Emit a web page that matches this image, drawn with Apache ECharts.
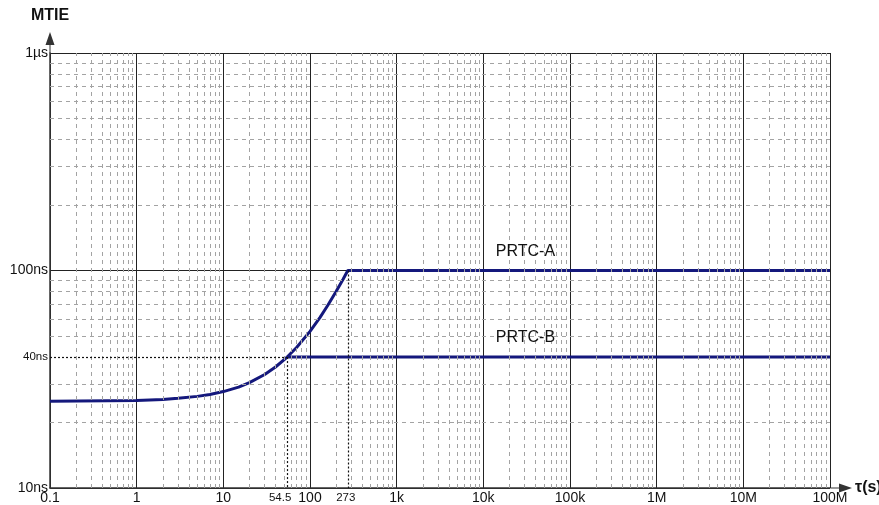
<!DOCTYPE html>
<html>
<head>
<meta charset="utf-8">
<script src="https://cdn.jsdelivr.net/npm/echarts@6/dist/echarts.min.js"></script>
<style>html,body{margin:0;padding:0;background:#fff}#c{width:879px;height:505px}</style>
</head>
<body>
<div id="c"></div>
<script>
// ---- data ----
const tauA  = [0.1, 1, 2, 3, 5, 7, 10, 15, 20, 30, 40, 54.5, 70, 100, 130, 160, 200, 240, 273, 1e8];
const mtieA = [25.03, 25.28, 25.55, 25.83, 26.38, 26.93, 27.75, 29.1, 30.5, 33.25, 36, 40, 44.25, 52.5, 60.75, 69, 80, 91, 100, 100];
const tauB  = [54.5, 1e8];
const mtieB = [40, 40];
const xTickLabels = ['0.1', '1', '10', '100', '1k', '10k', '100k', '1M', '10M', '100M'];
const yTickLabels = ['10ns', '100ns', '1µs'];
const xDecades = [0.1, 1, 10, 100, 1e3, 1e4, 1e5, 1e6, 1e7];
const yDecades = [10, 100];
const minorMult = [2, 3, 4, 5, 6, 7, 8, 9];
const refTauB = 54.5, refTauA = 273, refB = 40, refA = 100;
const labelA = {tau: 3.06e4, mtie: 100, text: 'PRTC-A'};
const labelB = {tau: 3.06e4, mtie: 40, text: 'PRTC-B'};

const FONT = '"Liberation Sans", Arial, sans-serif';
const lineColor = '#14187c';

const minorLines = [];
xDecades.forEach(d => minorMult.forEach(m => minorLines.push({xAxis: d * m})));
yDecades.forEach(d => minorMult.forEach(m => { if (d * m !== refB) minorLines.push({yAxis: d * m}); }));

const arrowPath = 'path://M4.5 0 L9 13 L5 13 L5 21 L4 21 L4 13 L0 13 Z';

const chart = echarts.init(document.getElementById('c'), null, {renderer: 'canvas'});
chart.setOption({
  animation: false,
  backgroundColor: '#fff',
  textStyle: {fontFamily: FONT},
  grid: {left: 50, right: 49, top: 53, bottom: 17, containLabel: false, outerBoundsMode: 'none'},
  xAxis: {
    type: 'log', logBase: 10, min: 0.1, max: 1e8, splitNumber: 10,
    name: 'τ(s)', nameLocation: 'end', nameGap: 25,
    nameTextStyle: {fontFamily: FONT, fontWeight: 'bold', fontSize: 16, color: '#111', verticalAlign: 'middle'},
    axisLine: {show: true, symbol: ['none', arrowPath], symbolSize: [9, 23], symbolOffset: [0, 11.5],
               lineStyle: {color: '#333', width: 1.5}},
    axisTick: {show: false},
    axisLabel: {show: true, margin: 3, fontSize: 14, color: '#111', fontFamily: FONT,
                showMinLabel: true, showMaxLabel: true,
                formatter: v => xTickLabels[Math.round(Math.log10(v)) + 1]},
    splitLine: {show: true, lineStyle: {color: '#222', width: 1}}
  },
  yAxis: {
    type: 'log', logBase: 10, min: 10, max: 1000, splitNumber: 5,
    name: 'MTIE', nameLocation: 'end', nameGap: 29,
    nameTextStyle: {fontFamily: FONT, fontWeight: 'bold', fontSize: 16, color: '#111'},
    axisLine: {show: true, symbol: ['none', arrowPath], symbolSize: [9, 21], symbolOffset: [0, 10.5],
               lineStyle: {color: '#333', width: 1.5}},
    axisTick: {show: false},
    axisLabel: {show: true, margin: 2, fontSize: 14, color: '#111', fontFamily: FONT,
                showMinLabel: true, showMaxLabel: true,
                formatter: v => yTickLabels[Math.round(Math.log10(v)) - 1]},
    splitLine: {show: true, lineStyle: {color: '#222', width: 1}}
  },
  series: [
    {
      name: 'grid', type: 'line', data: [], z: 1, silent: true,
      markLine: {
        silent: true, symbol: ['none', 'none'], animation: false,
        label: {show: false},
        lineStyle: {color: '#a3a3a3', type: [4, 4], width: 1},
        emphasis: {disabled: true},
        data: minorLines
      }
    },
    {
      name: 'PRTC-A', type: 'line', z: 4, symbol: 'none', smooth: false,
      lineStyle: {color: lineColor, width: 3},
      data: tauA.map((t, i) => [t, mtieA[i]]),
      markPoint: {
        silent: true, symbol: 'circle', symbolSize: 1, itemStyle: {color: 'rgba(0,0,0,0)'},
        label: {show: true, position: 'inside', offset: [0, -19], fontSize: 16, color: '#111', fontFamily: FONT},
        data: [
          {coord: [labelA.tau, labelA.mtie], label: {formatter: labelA.text}},
          {coord: [labelB.tau, labelB.mtie], label: {formatter: labelB.text}}
        ]
      }
    },
    {
      name: 'PRTC-B', type: 'line', z: 4, symbol: 'none',
      lineStyle: {color: lineColor, width: 3},
      data: tauB.map((t, i) => [t, mtieB[i]]),
      markLine: {
        silent: true, symbol: ['none', 'none'], animation: false,
        lineStyle: {color: '#111', type: [2, 2], width: 1.2},
        label: {show: true, fontSize: 11.5, color: '#111', fontFamily: FONT},
        emphasis: {disabled: true},
        data: [
          [{coord: [0.1, refB], label: {position: 'start', formatter: '40ns', distance: 2}}, {coord: [refTauB, refB]}],
          [{coord: [refTauB, refB]}, {coord: [refTauB, 10], label: {position: 'end', formatter: '54.5', distance: 4, offset: [-7, 0]}}],
          [{coord: [refTauA, refA]}, {coord: [refTauA, 10], label: {position: 'end', formatter: '273', distance: 4, offset: [-2, 0]}}]
        ]
      }
    }
  ]
});
</script>
</body>
</html>
